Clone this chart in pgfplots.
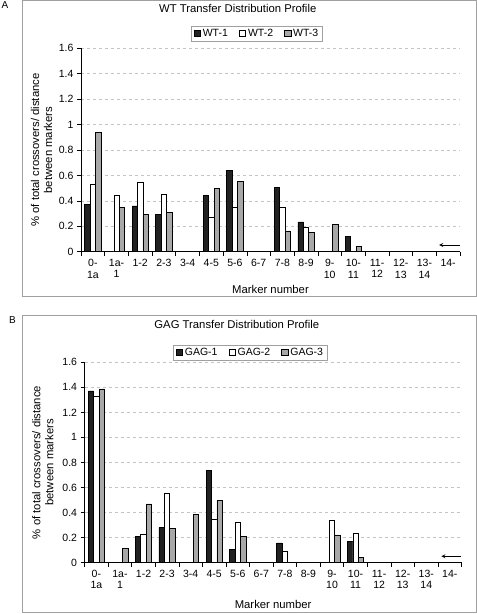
\documentclass[border=0pt]{standalone}
\usepackage{pgfplots}
\pgfplotsset{compat=1.18}
\usepackage{pgfplotstable}
\usepackage{fontspec}
\setmainfont{Liberation Sans}
\definecolor{darkbar}{HTML}{222222}
\definecolor{graybar}{HTML}{A8A8A8}
\definecolor{gridc}{HTML}{C4C4C4}
\definecolor{framec}{HTML}{A0A0A0}

\pgfplotstableread{
x  s1    s2    s3
0  0.371 0.529 0.940
1  0     0.447 0.350
2  0.360 0.547 0.292
3  0.295 0.450 0.310
4  0     0     0
5  0.442 0.274 0.495
6  0.637 0.347 0.553
7  0     0     0
8  0.503 0.347 0.163
9  0.234 0.192 0.153
10 0     0     0.216
11 0.118 0     0.040
12 0     0     0
13 0     0     0
14 0     0     0
15 0     0     0
}\wtdata

\pgfplotstableread{
x  s1    s2    s3
0  1.371 1.330 1.387
1  0     0     0.115
2  0.210 0.227 0.469
3  0.280 0.552 0.272
4  0     0     0.384
5  0.736 0.344 0.499
6  0.104 0.323 0.210
7  0     0     0
8  0.157 0.088 0
9  0     0     0
10 0     0.339 0.221
11 0.168 0.235 0.043
12 0     0     0
13 0     0     0
14 0     0     0
15 0     0     0
}\gagdata

\pgfplotsset{
  panel/.style={
    ybar,
    scale only axis,
    anchor=south west,
    bar width=0.23,
    ymin=0, ymax=1.6,
    ytick={0,0.2,...,1.6},
    xmin=-0.5, xmax=15.5,
    xtick={0,...,15},
    xticklabels={{0-\\1a},{1a-\\1},{1-2},{2-3},{3-4},{4-5},{5-6},{6-7},{7-8},{8-9},{9-\\10},{10-\\11},{11-\\12},{12-\\13},{13-\\14},{14-}},
    minor xtick={-0.5,0.5,...,15.5},
    xtick style={draw=none},
    minor x tick style={draw=black, line width=0.6pt},
    ytick style={draw=black, line width=0.6pt},
    major tick length=4pt,
    minor tick length=4pt,
    tick align=outside,
    axis x line*=bottom,
    axis y line*=left,
    axis line style={black, line width=0.7pt},
    ymajorgrids,
    major grid style={gridc, dash pattern=on 3pt off 3pt, line width=0.5pt},
    /pgf/number format/assume math mode=true,
    tick label style={font=\fontsize{10.5}{11.5}\selectfont},
    xticklabel style={align=center, font=\fontsize{10.5}{11.5}\selectfont},
    label style={font=\fontsize{11.3}{13}\selectfont},
    ylabel style={align=center, anchor=center},
    xlabel style={anchor=center},
    title style={anchor=center, font=\fontsize{11.3}{13}\selectfont},
    legend image code/.code={\draw[#1] (0pt,-3pt) rectangle (6.5pt,3.5pt);},
    legend style={anchor=center, legend columns=3, draw=framec, line width=0.6pt,
      font=\fontsize{10.5}{12}\selectfont, inner xsep=2pt, inner ysep=1pt,
      /tikz/every even column/.append style={column sep=9pt}},
    legend cell align=left,
    ylabel={\% of total crossovers/ distance\\between markers},
    xlabel={Marker number},
  }
}

\begin{document}
\begin{tikzpicture}
\useasboundingbox (0pt,0pt) rectangle (477pt,-614pt);
\draw[framec, line width=0.8pt] (22.5pt,-0.5pt) rectangle (476pt,-296.5pt);
\draw[framec, line width=0.8pt] (22pt,-315.7pt) rectangle (476pt,-612.7pt);
\node[font=\fontsize{10}{12}\selectfont] at (5pt,-5pt) {A};
\node[font=\fontsize{10}{12}\selectfont] at (12.5pt,-320.5pt) {B};

\begin{axis}[panel,
  at={(81pt,-251.7pt)}, width=379pt, height=203.4pt,
  title={WT Transfer Distribution Profile},
  title style={at={(axis description cs:0.4135,1.164)}},
  legend style={at={(axis description cs:0.4644,1.0728)}},
  ylabel style={at={(axis description cs:-0.1037,0.5)}},
  xlabel style={at={(axis description cs:0.5,-0.188)}},
]
\addplot[fill=darkbar, draw=black, line width=0.6pt, bar shift=-0.23] table[x=x,y=s1]{\wtdata};
\addplot[fill=white, draw=black, line width=0.6pt, bar shift=0] table[x=x,y=s2]{\wtdata};
\addplot[fill=graybar, draw=black, line width=0.6pt, bar shift=0.23] table[x=x,y=s3]{\wtdata};
\legend{WT-1,WT-2,WT-3}
\draw[-stealth, line width=0.8pt] (axis cs:15.52,0.053) -- (axis cs:14.62,0.053);
\end{axis}

\begin{axis}[panel,
  at={(84.6pt,-562.5pt)}, width=377pt, height=200.2pt,
  title={GAG Transfer Distribution Profile},
  title style={at={(axis description cs:0.4037,1.158)}},
  legend style={at={(axis description cs:0.4398,1.049)}},
  ylabel style={at={(axis description cs:-0.1106,0.5)}},
  xlabel style={at={(axis description cs:0.5,-0.209)}},
]
\addplot[fill=darkbar, draw=black, line width=0.6pt, bar shift=-0.23] table[x=x,y=s1]{\gagdata};
\addplot[fill=white, draw=black, line width=0.6pt, bar shift=0] table[x=x,y=s2]{\gagdata};
\addplot[fill=graybar, draw=black, line width=0.6pt, bar shift=0.23] table[x=x,y=s3]{\gagdata};
\legend{GAG-1,GAG-2,GAG-3}
\draw[-stealth, line width=0.8pt] (axis cs:15.49,0.05) -- (axis cs:14.64,0.05);
\end{axis}
\end{tikzpicture}
\end{document}
